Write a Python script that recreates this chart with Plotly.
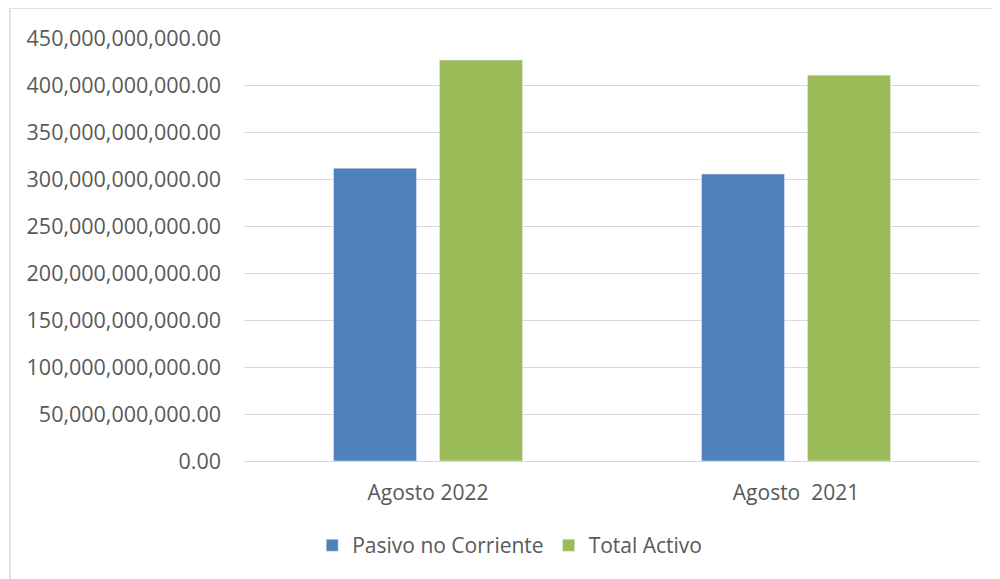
import plotly.graph_objects as go

categorias = ["Agosto 2022", "Agosto  2021"]
pasivo_no_corriente = [311.5e9, 305.3e9]
total_activo = [426.5e9, 410.5e9]

fig = go.Figure()
fig.add_trace(go.Bar(x=categorias, y=pasivo_no_corriente, name="Pasivo no Corriente",
                     marker=dict(color="#4f81bd")))
fig.add_trace(go.Bar(x=categorias, y=total_activo, name="Total Activo",
                     marker=dict(color="#9bbb59")))

fig.update_layout(
    width=1000, height=579,
    margin=dict(l=236, r=28, t=30, b=126),
    paper_bgcolor="white", plot_bgcolor="white",
    font=dict(family="Open Sans, sans-serif", size=21, color="#595959"),
    barmode="group", bargap=0.424, bargroupgap=0.217,
    showlegend=True,
    legend=dict(orientation="h", x=0.361, xanchor="center", y=-0.2, yanchor="middle",
                font=dict(size=21, color="#595959"), itemwidth=30, traceorder="normal"),
    # outer frame, right and bottom edges fall outside the picture
    shapes=[dict(type="rect", xref="paper", yref="paper",
                 x0=-0.318, x1=1.2, y0=-0.5, y1=1.0709,
                 line=dict(color="#d9d9d9", width=1.5), layer="below")],
)
fig.update_yaxes(range=[0, 450e9], dtick=50e9, tickformat=",.2f",
                 tickfont=dict(size=21.5),
                 showgrid=True, gridcolor="#d9d9d9", gridwidth=1,
                 zeroline=True, zerolinecolor="#d9d9d9", zerolinewidth=1,
                 ticks="", ticklabelstandoff=22)
fig.update_xaxes(showline=False, ticks="", ticklabelstandoff=17)

fig.write_html("out.html")
